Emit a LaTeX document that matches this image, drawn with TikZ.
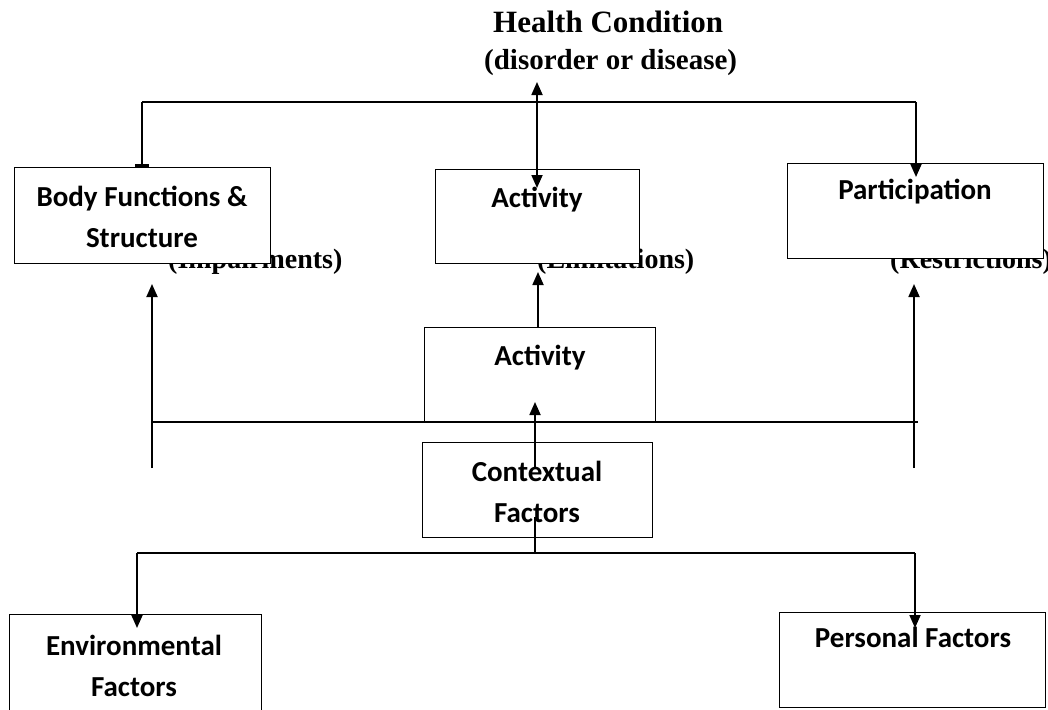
\documentclass[tikz,border=0pt]{standalone}
\usepackage{fontspec}
\setmainfont{Liberation Serif}
\newfontfamily\calibri{Carlito}
\usetikzlibrary{arrows.meta}
\begin{document}
\begin{tikzpicture}[x=1pt,y=-1pt,
  box/.style={draw,line width=1.3pt,fill=white,inner sep=0pt,anchor=north west},
  stxt/.style={font=\calibri\bfseries\fontsize{29}{41}\selectfont,align=center,inner sep=0pt},
  lbl/.style={font=\bfseries\fontsize{28}{32}\selectfont,inner sep=0pt,anchor=base west},
  conn/.style={line width=1.8pt},
  arr/.style={conn,-{Triangle[length=13pt,width=11pt]}},
  darr/.style={conn,{Triangle[length=13pt,width=11pt]}-{Triangle[length=13pt,width=11pt]}}]
\useasboundingbox (0,0) rectangle (1048,709);
\clip (0,0) rectangle (1048,709);
% title
\node[font=\bfseries\fontsize{31}{34}\selectfont,inner sep=0pt,anchor=base west] (title) at (493,33) {Health Condition};
\node[font=\bfseries\fontsize{29}{32}\selectfont,inner sep=0pt,anchor=base west] (sub) at (484,70) {(disorder or disease)};
% labels behind boxes
\node[lbl] (imp) at (168,268) {(Impairments)};
\node[lbl] (lim) at (537,268) {(Limitations)};
\node[lbl] (res) at (890,268) {(Restrictions)};
% boxes
\node[box,minimum width=256pt,minimum height=96pt] (body) at (14,167) {};
\node[box,minimum width=204pt,minimum height=94pt] (act1) at (435,169) {};
\node[box,minimum width=256pt,minimum height=95pt] (part) at (787,163) {};
\node[box,minimum width=231pt,minimum height=95pt] (act2) at (424,327) {};
\node[box,minimum width=230pt,minimum height=95pt] (ctx) at (422,442) {};
\node[box,minimum width=252pt,minimum height=110pt] (env) at (9,614) {};
\node[box,minimum width=266pt,minimum height=95pt] (pers) at (779,612) {};
% box texts
\node[stxt,anchor=center] (bodyt) at (142,217) {Body Functions \&\\Structure};
\node[stxt] (act1t) at (537,200) {Activity};
\node[stxt] (partt) at (915,192) {Participation};
\node[stxt] (act2t) at (540,358) {Activity};
\node[stxt] (ctxt) at (537,492) {Contextual\\Factors};
\node[stxt] (envt) at (134,666) {Environmental\\Factors};
\node[stxt] (perst) at (913,637) {Personal Factors};
% junction coordinates
\coordinate (tl) at (142,102);
\coordinate (tr) at (916,102);
\coordinate (hctop) at (537,82);
\coordinate (hcbot) at (537,188);
\coordinate (partin) at (916,177);
\coordinate (ml) at (152,422);
\coordinate (mr) at (918,422);
\coordinate (lbot) at (152,468);
\coordinate (ltip) at (152,284);
\coordinate (rbot) at (914,468);
\coordinate (rtip) at (914,284);
\coordinate (midtip) at (538,272);
\coordinate (ctxtop) at (535,467);
\coordinate (act2tip) at (535,402);
\coordinate (ctxlow) at (535,517);
\coordinate (bc) at (535,553);
\coordinate (bl) at (137,553);
\coordinate (br) at (915,553);
\coordinate (envin) at (137,628);
\coordinate (persin) at (915,628);
% connectors
\draw[conn] (tl) -- (tr);
\draw[conn,-{Rectangle[length=3pt,width=14pt]}] (tl) -- (body.north west -| tl);
\draw[darr] (hcbot) -- (hctop);
\draw[arr] (tr) -- (partin);
\draw[conn] (ml) -- (mr);
\draw[arr] (lbot) -- (ltip);
\draw[arr] (rbot) -- (rtip);
\draw[arr] (act2.north -| midtip) -- (midtip);
\draw[arr] (ctxtop) -- (act2tip);
\draw[conn] (bc) -- (ctxlow);
\draw[conn] (bl) -- (br);
\draw[arr] (bl) -- (envin);
\draw[arr] (br) -- (persin);
\end{tikzpicture}
\end{document}
